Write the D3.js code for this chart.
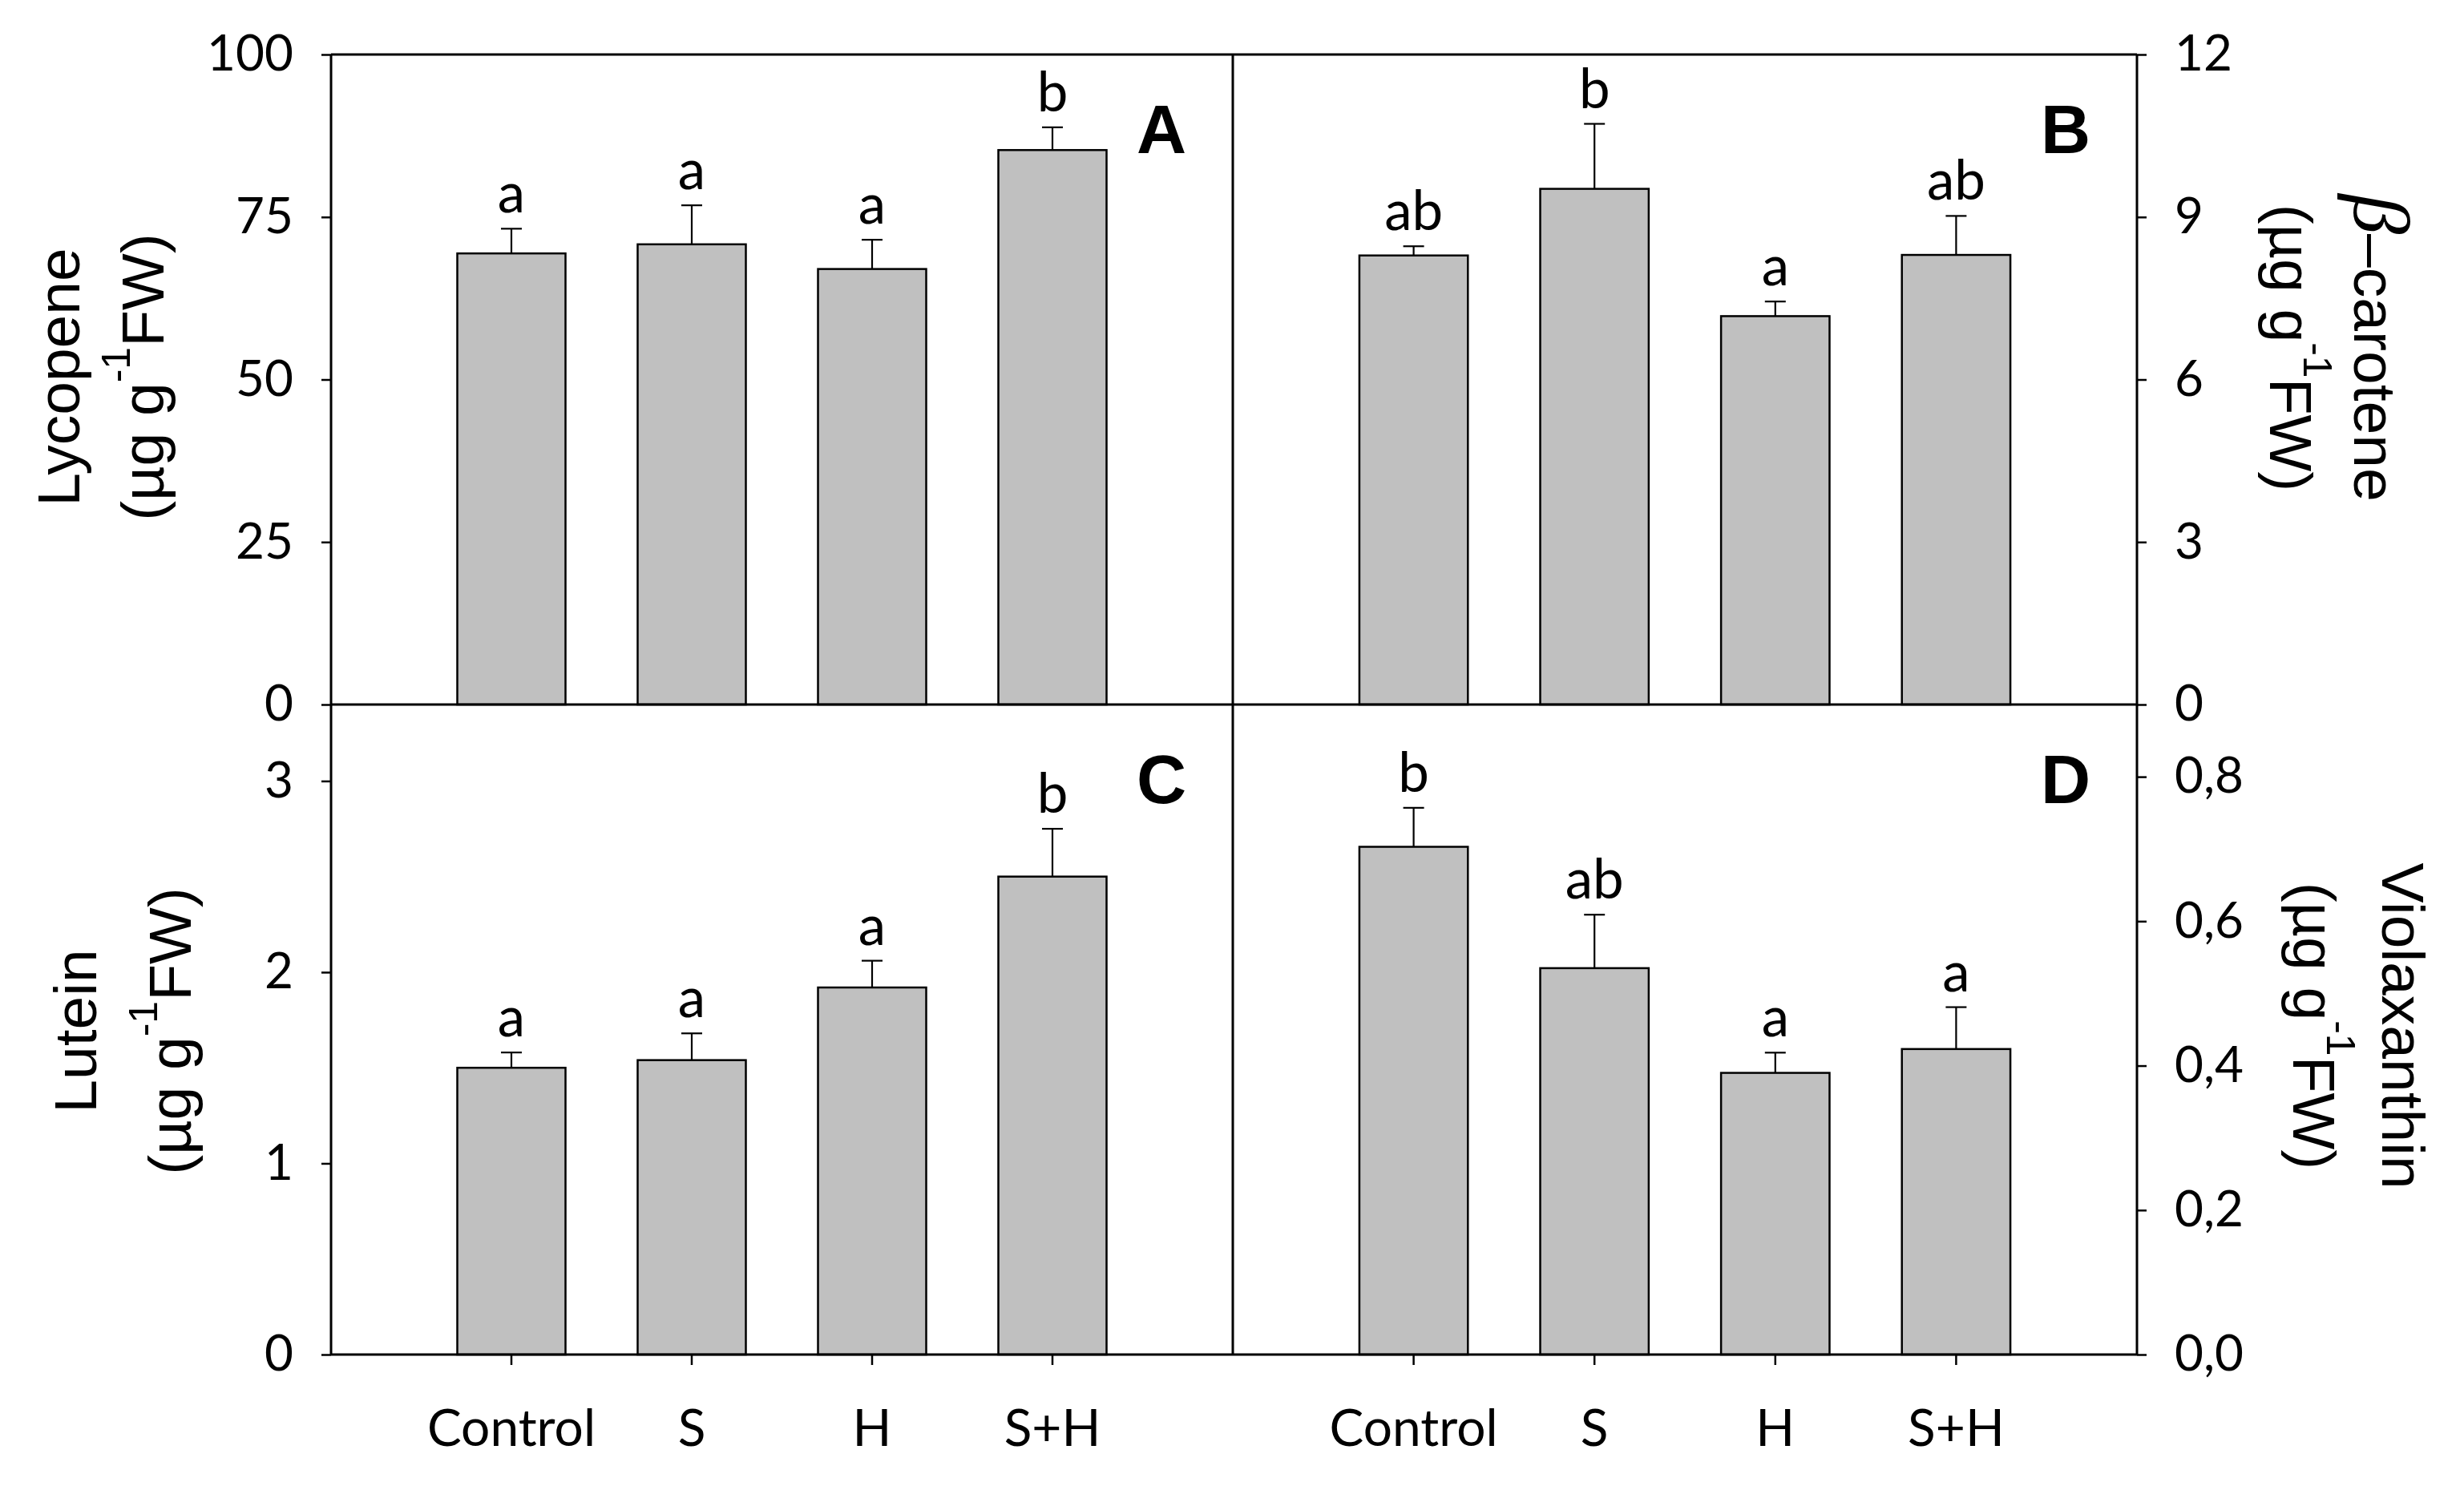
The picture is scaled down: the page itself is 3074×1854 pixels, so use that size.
<!DOCTYPE html>
<html>
<head>
<meta charset="utf-8">
<script src="https://cdn.jsdelivr.net/npm/d3@7"></script>
<style>
  body { margin: 0; background: #fff; }
</style>
</head>
<body>
<script>
// Données
var categories = ["Control", "S", "H", "S+H"];

var lycopene = [69.4, 70.8, 67.0, 85.3];
var lycopeneErr = [3.8, 6.0, 4.5, 3.5];
var lycopeneSig = ["a", "a", "a", "b"];

var betaCarotene = [8.29, 9.52, 7.17, 8.30];
var betaCaroteneErr = [0.17, 1.20, 0.27, 0.72];
var betaCaroteneSig = ["ab", "b", "a", "ab"];

var lutein = [1.50, 1.54, 1.92, 2.50];
var luteinErr = [0.08, 0.14, 0.14, 0.25];
var luteinSig = ["a", "a", "a", "b"];

var violaxanthin = [0.703, 0.535, 0.390, 0.423];
var violaxanthinErr = [0.054, 0.074, 0.028, 0.058];
var violaxanthinSig = ["b", "ab", "a", "a"];

// Graduations des axes
var lycopeneTicks = [0, 25, 50, 75, 100];
var betaCaroteneTicks = [0, 3, 6, 9, 12];
var luteinTicks = [0, 1, 2, 3];
var violaxanthinTicks = [0, 0.2, 0.4, 0.6, 0.8];
var yMax = [100, 12, 3.4, 0.9];

// Cadre
var W = 3074, H = 1854;
var colX = [413, 1538, 2666];
var rowY = [68, 879, 1690];

var tickFont = "Lato, 'Open Sans', sans-serif";
var titleFont = "'Liberation Sans', Arial, sans-serif";

var svg = d3.select("body").append("svg")
    .attr("width", W)
    .attr("height", H)
    .style("background", "#fff");

var panels = [
    {values: lycopene, err: lycopeneErr, sig: lycopeneSig, ticks: lycopeneTicks, max: yMax[0], col: 0, row: 0, tag: "A",
     title: "Lycopene", titleX: [99, 204], comma: false},
    {values: betaCarotene, err: betaCaroteneErr, sig: betaCaroteneSig, ticks: betaCaroteneTicks, max: yMax[1], col: 1, row: 0, tag: "B",
     title: "carotene", titleX: [2937, 2832], comma: false},
    {values: lutein, err: luteinErr, sig: luteinSig, ticks: luteinTicks, max: yMax[2], col: 0, row: 1, tag: "C",
     title: "Lutein", titleX: [120, 238], comma: false},
    {values: violaxanthin, err: violaxanthinErr, sig: violaxanthinSig, ticks: violaxanthinTicks, max: yMax[3], col: 1, row: 1, tag: "D",
     title: "Violaxanthin", titleX: [2972, 2861], comma: true}
];

function drawPanel(p) {
    var x0 = colX[p.col], x1 = colX[p.col + 1];
    var y0 = rowY[p.row], y1 = rowY[p.row + 1];

    var x = d3.scaleBand()
        .domain(categories)
        .range([x0, x1])
        .paddingInner(0.4)
        .paddingOuter(0.7);

    var y = d3.scaleLinear()
        .domain([0, p.max])
        .range([y1, y0]);

    var rows = categories.map(function (c, i) {
        return {cat: c, v: p.values[i], e: p.err[i], s: p.sig[i]};
    });

    // Barres
    svg.append("g").selectAll("rect")
        .data(rows)
        .join("rect")
        .attr("x", function (d) { return x(d.cat); })
        .attr("y", function (d) { return y(d.v); })
        .attr("width", x.bandwidth())
        .attr("height", function (d) { return y(0) - y(d.v); })
        .attr("fill", "#c0c0c0")
        .attr("stroke", "#000")
        .attr("stroke-width", 2.5);

    // Barres d'erreur (vers le haut seulement)
    var eb = svg.append("g").attr("stroke", "#000").attr("stroke-width", 2.2);
    rows.forEach(function (d) {
        var cx = x(d.cat) + x.bandwidth() / 2;
        eb.append("line")
            .attr("x1", cx).attr("x2", cx)
            .attr("y1", y(d.v)).attr("y2", y(d.v + d.e));
        eb.append("line")
            .attr("x1", cx - 13).attr("x2", cx + 13)
            .attr("y1", y(d.v + d.e)).attr("y2", y(d.v + d.e));
    });

    // Lettres de significativité
    svg.append("g").selectAll("text")
        .data(rows)
        .join("text")
        .attr("x", function (d) { return x(d.cat) + x.bandwidth() / 2; })
        .attr("y", function (d) { return y(d.v + d.e) - 20; })
        .attr("text-anchor", "middle")
        .style("font-family", tickFont)
        .style("font-size", "69px")
        .text(function (d) { return d.s; });

    // Axe des y
    var fmt = p.comma ? function (v) { return d3.format(".1f")(v).replace(".", ","); } : d3.format("d");
    var isLeft = p.col === 0;
    var axis = (isLeft ? d3.axisLeft(y) : d3.axisRight(y))
        .tickValues(p.ticks)
        .tickFormat(fmt)
        .tickSize(12)
        .tickSizeOuter(0)
        .tickPadding(35);
    var ga = svg.append("g")
        .attr("transform", "translate(" + (isLeft ? x0 : x1) + ",0)")
        .call(axis);
    ga.select(".domain").remove();
    ga.selectAll("line").attr("stroke", "#000").attr("stroke-width", 2.5);
    ga.selectAll("text")
        .style("font-family", tickFont)
        .style("font-size", "62px")
        .attr("fill", "#000");

    // Axe des x (panneaux du bas)
    if (p.row === 1) {
        var xa = svg.append("g")
            .attr("transform", "translate(0," + y1 + ")")
            .call(d3.axisBottom(x).tickSize(13).tickSizeOuter(0));
        xa.select(".domain").remove();
        xa.selectAll("line").attr("stroke", "#000").attr("stroke-width", 2.5);
        xa.selectAll("text")
            .attr("dy", null)
            .attr("y", 114)
            .attr("fill", "#000")
            .style("font-family", tickFont)
            .style("font-size", "64px");
    }

    // Lettre du panneau
    svg.append("text")
        .attr("x", x1 - 58)
        .attr("y", y0 + 123)
        .attr("text-anchor", "end")
        .style("font-family", titleFont)
        .style("font-weight", "bold")
        .style("font-size", "86px")
        .text(p.tag);

    // Titre de l'axe
    var cy = isLeft ? (y0 + y1) / 2 - (p.row === 0 ? 3 : -2) : (p.row === 0 ? 434 : 1280);
    var rot = isLeft ? -90 : 90;

    var t1 = svg.append("text")
        .attr("transform", "translate(" + p.titleX[0] + "," + cy + ") rotate(" + rot + ")")
        .attr("text-anchor", "middle")
        .style("font-family", titleFont)
        .style("font-size", "75px");
    if (p.tag === "B") {
        t1.append("tspan")
            .style("font-family", "'Liberation Serif', serif")
            .style("font-style", "italic")
            .style("font-size", "100px")
            .text("β");
        t1.append("tspan").text("–" + p.title);
    } else {
        t1.text(p.title);
    }

    var t2 = svg.append("text")
        .attr("transform", "translate(" + p.titleX[1] + "," + cy + ") rotate(" + rot + ")")
        .attr("text-anchor", "middle")
        .style("font-family", titleFont)
        .style("font-size", "75px");
    t2.append("tspan").text("(µg g");
    t2.append("tspan").attr("dy", -42).style("font-size", "50px").text("-1");
    t2.append("tspan").attr("dy", 42).text("FW)");
}

panels.forEach(drawPanel);

// Cadre des quatre panneaux
var frame = svg.append("g").attr("stroke", "#000").attr("stroke-width", 3);
rowY.forEach(function (yy) {
    frame.append("line").attr("x1", colX[0]).attr("x2", colX[2]).attr("y1", yy).attr("y2", yy);
});
colX.forEach(function (xx) {
    frame.append("line").attr("x1", xx).attr("x2", xx).attr("y1", rowY[0]).attr("y2", rowY[2]);
});
</script>
</body>
</html>
